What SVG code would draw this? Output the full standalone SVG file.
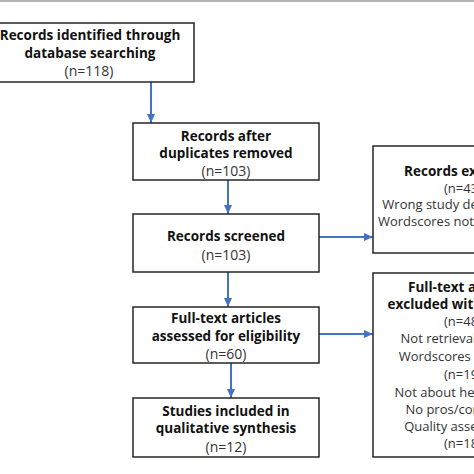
<svg xmlns="http://www.w3.org/2000/svg" width="474" height="474" viewBox="0 0 474 474">
<style>
.box{fill:#fff;stroke:#262626;stroke-width:1.5}
.b{font-family:"Open Sans","Noto Sans",sans-serif;font-size:13.5px;font-weight:bold;fill:#111;text-anchor:middle}
.r{font-family:"Open Sans","Noto Sans",sans-serif;font-size:14px;fill:#333;text-anchor:middle}
.rs{font-family:"Open Sans","Noto Sans",sans-serif;font-size:13px;fill:#333;text-anchor:middle}
.c{stroke:#4472C4;stroke-width:2;fill:none}
</style>
<defs>
<marker id="ah" markerWidth="9" markerHeight="8" refX="9" refY="4" orient="auto" markerUnits="userSpaceOnUse">
<path d="M0,0 L9,4 L0,8 Z" fill="#4472C4"/>
</marker>
</defs>
<rect x="0" y="0" width="474" height="2" fill="#b3b3b3"/>
<g id="connectors">
<line class="c" x1="151" y1="82" x2="151" y2="123" marker-end="url(#ah)"/>
<line class="c" x1="228" y1="180" x2="228" y2="214" marker-end="url(#ah)"/>
<line class="c" x1="228" y1="272" x2="228" y2="307" marker-end="url(#ah)"/>
<line class="c" x1="231" y1="363" x2="231" y2="398" marker-end="url(#ah)"/>
<line class="c" x1="319" y1="237" x2="373" y2="237" marker-end="url(#ah)"/>
<line class="c" x1="319" y1="334" x2="373" y2="334" marker-end="url(#ah)"/>
</g>
<g id="identified">
<rect class="box" x="-14" y="23" width="208" height="59"/>
<text class="b" x="90" y="39.5">Records identified through</text>
<text class="b" x="90" y="57.5">database searching</text>
<text class="r" x="89" y="76">(n=118)</text>
</g>
<g id="duplicates">
<rect class="box" x="133" y="123" width="186" height="57"/>
<text class="b" x="226" y="140.5">Records after</text>
<text class="b" x="226" y="157.5">duplicates removed</text>
<text class="r" x="226" y="176">(n=103)</text>
</g>
<g id="screened">
<rect class="box" x="133" y="214" width="186" height="58"/>
<text class="b" x="226" y="240.5">Records screened</text>
<text class="r" x="226" y="259.5">(n=103)</text>
</g>
<g id="fulltext">
<rect class="box" x="133" y="307" width="186" height="56"/>
<text class="b" x="226" y="322.5">Full-text articles</text>
<text class="b" x="226" y="341">assessed for eligibility</text>
<text class="r" x="226" y="359">(n=60)</text>
</g>
<g id="included">
<rect class="box" x="133" y="398" width="186" height="59"/>
<text class="b" x="226" y="416">Studies included in</text>
<text class="b" x="226" y="433">qualitative synthesis</text>
<text class="r" x="226" y="452">(n=12)</text>
</g>
<g id="excluded">
<rect class="box" x="373" y="146" width="176" height="107"/>
<text class="b" x="463" y="176">Records excluded</text>
<text class="rs" x="463" y="192.5">(n=43)</text>
<text class="rs" x="463" y="208.5">Wrong study design (n=30)</text>
<text class="rs" x="463" y="225.5">Wordscores not used (n=13)</text>
</g>
<g id="fulltext-excluded">
<rect class="box" x="373" y="273" width="176" height="184"/>
<text class="b" x="463" y="292">Full-text articles</text>
<text class="b" x="463" y="309">excluded with reasons</text>
<text class="rs" x="463" y="326">(n=48)</text>
<text class="rs" x="463" y="343">Not retrievable (n=2)</text>
<text class="rs" x="463" y="361">Wordscores not used</text>
<text class="rs" x="463" y="379">(n=19)</text>
<text class="rs" x="463" y="397">Not about health (n=5)</text>
<text class="rs" x="463" y="414">No pros/cons (n=4)</text>
<text class="rs" x="463" y="431">Quality assessment</text>
<text class="rs" x="463" y="448">(n=18)</text>
</g>
</svg>
